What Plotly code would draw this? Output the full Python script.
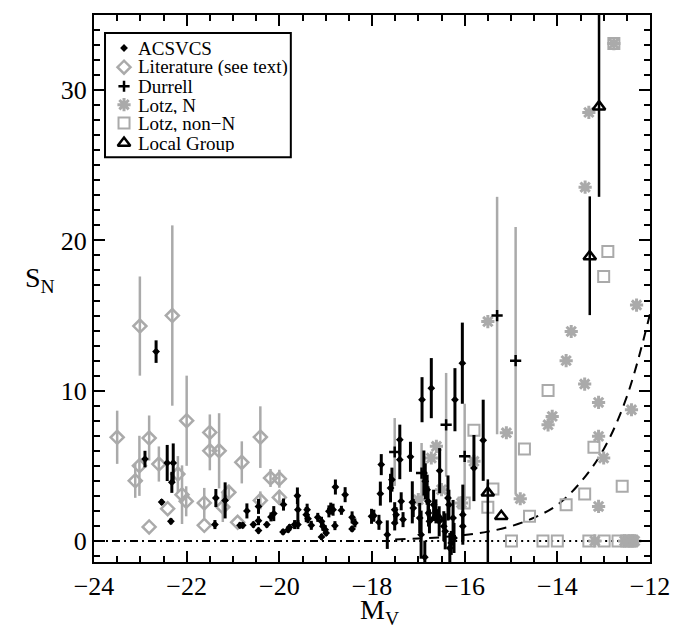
import plotly.graph_objects as go

# ---------------- data ----------------
# ACSVCS: M_V, S_N, error
acs_mv = [-22.66, -22.90, -22.54, -22.42, -22.29, -22.32, -22.34, -21.37, -21.39, -21.17,
          -20.85, -20.79, -20.70, -20.56, -20.45, -20.45, -20.45, -20.27, -20.18, -20.12,
          -19.91, -19.92, -19.81, -19.78, -19.67, -19.61, -19.60, -19.60, -19.42, -19.40,
          -19.38, -19.31, -19.17, -19.09, -19.06, -19.01, -19.09, -18.99, -18.93, -18.89,
          -18.84, -18.79, -18.80, -18.66, -18.58, -18.43, -18.37, -18.43, -18.01, -17.96,
          -17.85, -17.82, -17.80, -17.67, -17.60, -17.57, -17.40, -17.40, -17.51, -17.51,
          -17.48, -17.37, -17.33, -17.17, -17.13, -17.11, -16.97, -16.94, -16.86, -16.92,
          -16.72, -16.21, -16.05, -15.60, -15.80, -16.54, -16.88, -16.85, -16.81, -16.79,
          -16.78, -16.76, -16.67, -16.62, -16.55, -16.45, -16.42, -16.36, -16.34, -16.32,
          -16.29, -16.25, -16.23, -16.04, -16.04]
acs_sn = [12.6, 5.45, 2.59, 5.19, 5.19, 3.9, 1.31, 2.86, 1.09, 2.7,
          1.04, 1.04, 2.0, 1.09, 2.3, 1.35, 0.69, 1.09, 1.6, 1.82,
          2.42, 0.6, 0.75, 0.91, 1.09, 3.01, 2.08, 1.09, 1.75, 2.08,
          1.48, 1.04, 1.57, 1.31, 0.98, 0.75, 0.27, 0.53, 1.97, 2.15,
          2.08, 3.59, 1.02, 2.04, 3.08, 1.57, 1.2, 0.8, 1.64, 1.68,
          1.24, 3.15, 5.08, 0.42, 3.52, 4.08, 6.74, 5.41, 2.08, 1.2,
          1.75, 2.64, 1.42, 5.6, 2.57, 2.19, 1.53, 0.42, -1.08, 9.4,
          10.17, 9.4, 11.83, 6.7, 4.85, 4.68, 4.52, 3.97, 3.41, 2.64,
          1.86, 1.31, 2.41, 1.97, 1.31, 0.98, 0.64, 2.86, 2.41, -0.47,
          -0.13, 1.53, 0.2, 1.75, 0.98]
acs_err = [0.75, 0.55, 0.2, 1.2, 1.3, 0.7, 0.2, 0.6, 0.3, 1.2,
           0.2, 0.2, 0.5, 0.2, 0.5, 0.3, 0.2, 0.2, 0.3, 0.5,
           0.4, 0.2, 0.2, 0.2, 0.3, 0.55, 1.0, 0.3, 0.5, 0.4,
           0.3, 0.3, 0.3, 0.3, 0.3, 0.3, 0.2, 0.2, 0.4, 0.4,
           0.4, 0.5, 0.3, 0.3, 0.5, 0.4, 0.3, 0.2, 0.5, 0.4,
           0.5, 0.8, 0.7, 0.95, 0.95, 0.8, 1.0, 1.3, 0.5, 0.5,
           0.5, 0.6, 0.5, 1.0, 1.4, 0.6, 1.0, 1.6, 1.1, 1.5,
           2.0, 2.1, 2.7, 2.7, 2.2, 1.5, 1.5, 1.2, 1.0, 1.0,
           0.9, 0.8, 1.0, 0.8, 1.0, 1.0, 1.2, 1.5, 1.0, 1.0,
           0.8, 1.2, 1.0, 2.0, 1.0]

# Literature
lit_mv = [-23.50, -23.11, -23.02, -23.01, -22.81, -22.81, -22.60, -22.41, -22.31, -22.19,
          -22.10, -22.01, -22.00, -21.62, -21.62, -21.50, -21.50, -21.30, -21.22, -21.09,
          -20.90, -20.81, -20.41, -20.41, -20.19, -20.00, -20.00]
lit_sn = [6.9, 4.0, 5.0, 14.3, 6.85, 0.93, 5.12, 2.15, 15.0, 4.45,
          3.08, 2.64, 8.0, 2.53, 1.04, 7.22, 6.0, 6.0, 2.26, 3.24,
          1.24, 5.23, 6.91, 2.7, 4.19, 4.14, 2.9]
lit_err = [1.77, 1.13, 2.0, 3.3, 1.5, 0.0, 1.17, 0.0, 6.0, 1.2,
           1.95, 1.0, 3.0, 1.0, 0.0, 1.2, 1.3, 2.5, 1.0, 0.5,
           0.0, 1.4, 2.05, 0.6, 0.6, 0.6, 0.5]

# Durrell
dur_mv = [-17.51, -16.93, -16.40, -16.00, -15.30, -14.90]
dur_sn = [5.92, 4.52, 7.73, 5.63, 15.0, 12.0]
dur_err = [2.26, 2.0, 3.45, 3.5, 7.9, 8.9]

# Lotz, N
lotzn_mv = [-17.00, -16.72, -16.61, -16.50, -16.07, -15.80, -15.50, -15.10, -14.80, -14.20,
            -14.11, -13.81, -13.70, -13.41, -13.40, -13.32, -13.11, -13.11, -13.00, -13.11,
            -12.78, -12.40, -12.29, -13.19, -12.55, -12.45, -12.38, -12.33]
lotzn_sn = [2.75, 5.52, 6.3, 3.41, 2.53, 5.3, 14.6, 7.2, 2.81, 7.73,
            8.29, 12.0, 13.94, 10.44, 23.54, 28.52, 9.22, 6.96, 5.52, 2.3,
            33.1, 8.73, 15.7, 0.0, 0.0, 0.0, 0.0, 0.0]

# Lotz, non-N
lotzx_mv = [-16.01, -15.80, -15.39, -15.50, -14.71, -14.60, -14.20, -13.81, -13.41, -13.21,
            -13.00, -12.91, -12.78, -12.60, -14.99, -14.31, -14.00, -13.32, -12.99, -12.69,
            -12.50, -12.40]
lotzx_sn = [2.53, 7.36, 3.45, 2.24, 6.12, 1.64, 10.02, 2.41, 3.13, 6.23,
            17.6, 19.26, 33.1, 3.64, 0.0, 0.0, 0.0, 0.0, 0.0, 0.0,
            0.0, 0.0]

# Local Group
lg_mv = [-13.10, -13.30, -15.50, -15.21, -16.60]
lg_sn = [28.9, 18.93, 3.2, 1.64, 1.6]
lg_err_hi = [7.0, 4.0, 0.9, 0.0, 0.3]
lg_err_lo = [6.0, 3.9, 5.0, 0.0, 0.3]

# reference curves
zero_dd_mv = [-24.0, -17.5]
zero_dot_mv = [-17.5, -12.0]
curve_mv = [-17.5, -17.0, -16.5, -16.0, -15.5, -15.0, -14.5, -14.0, -13.5, -13.0, -12.5, -12.0]
curve_sn = [0.1, 0.16, 0.25, 0.4, 0.62, 0.98, 1.55, 2.4, 3.9, 6.1, 9.6, 15.1]

legend_labels = ["ACSVCS", "Literature (see text)", "Durrell", "Lotz, N", "Lotz, non\u2212N", "Local Group"]

GRAY = "#aaaaaa"
FONT = "Liberation Serif, Times New Roman, serif"

fig = go.Figure()

# lines
fig.add_trace(go.Scatter(x=zero_dd_mv, y=[0, 0], mode="lines",
                         line=dict(color="black", width=2, dash="8px,4px,2px,4px"), hoverinfo="skip"))
fig.add_trace(go.Scatter(x=zero_dot_mv, y=[0, 0], mode="lines",
                         line=dict(color="black", width=2, dash="2px,4px"), hoverinfo="skip"))
fig.add_trace(go.Scatter(x=curve_mv, y=curve_sn, mode="lines", line_shape="spline",
                         line=dict(color="black", width=2, dash="10px,7px"), hoverinfo="skip"))

SQ = dict(symbol="square-open", size=11, color=GRAY, line=dict(width=2, color=GRAY))
AST = dict(symbol="asterisk-open", size=11, color=GRAY, line=dict(width=3, color=GRAY))
DIA = dict(symbol="diamond-open", size=10, color=GRAY, line=dict(width=2.5, color=GRAY))
CRS = dict(symbol="cross-thin-open", size=8, color="black", line=dict(width=2.5, color="black"))
ACS = dict(symbol="diamond", size=6, color="black")
TRI = dict(symbol="triangle-up-open", size=11, color="black", line=dict(width=2.5, color="black"))

fig.add_trace(go.Scatter(x=lotzx_mv, y=lotzx_sn, mode="markers", marker=SQ))
fig.add_trace(go.Scatter(x=lotzn_mv, y=lotzn_sn, mode="markers", marker=AST))
fig.add_trace(go.Scatter(x=lit_mv, y=lit_sn, mode="markers",
                         error_y=dict(type="data", array=lit_err, color=GRAY, thickness=2.5, width=0),
                         marker=DIA))
fig.add_trace(go.Scatter(x=dur_mv, y=dur_sn, mode="markers",
                         error_y=dict(type="data", array=dur_err, color=GRAY, thickness=2.5, width=0),
                         marker=CRS))
fig.add_trace(go.Scatter(x=acs_mv, y=acs_sn, mode="markers",
                         error_y=dict(type="data", array=acs_err, color="black", thickness=3, width=0),
                         marker=ACS))
fig.add_trace(go.Scatter(x=lg_mv, y=lg_sn, mode="markers",
                         error_y=dict(type="data", array=lg_err_hi, arrayminus=lg_err_lo, symmetric=False,
                                      color="black", thickness=2.5, width=0),
                         marker=TRI))

# manual legend (overlay axes in [0,1])
leg_y = [0.9397, 0.9046, 0.8697, 0.8361, 0.8026, 0.7660]
leg_x = 0.054
leg_styles = [ACS, DIA, CRS, AST, SQ, TRI]
for yy, st, lab in zip(leg_y, leg_styles, legend_labels):
    fig.add_trace(go.Scatter(x=[leg_x], y=[yy], mode="markers", marker=st, xaxis="x2", yaxis="y2",
                             hoverinfo="skip"))
    fig.add_annotation(x=0.075, y=yy, xref="paper", yref="paper", text=lab, showarrow=False,
                       xanchor="left", yanchor="middle", height=18, valign="middle",
                       font=dict(family=FONT, size=19, color="black"))

fig.add_shape(type="rect", xref="paper", yref="paper", x0=0.0198, x1=0.354, y0=0.740, y1=0.967,
              line=dict(color="black", width=2), layer="above")

axis_common = dict(showline=True, linecolor="black", linewidth=2, mirror="allticks",
                   ticks="inside", ticklen=11, tickwidth=2, tickcolor="black",
                   showgrid=False, zeroline=False, automargin=False,
                   tickfont=dict(family=FONT, size=26, color="black"))

fig.update_layout(
    width=678, height=629,
    margin=dict(l=86, r=36, t=7, b=75),
    paper_bgcolor="white", plot_bgcolor="white",
    showlegend=False,
    xaxis=dict(range=[-24, -12], dtick=2, tick0=-24,
               minor=dict(ticks="inside", ticklen=6, tickwidth=2, tickcolor="black", dtick=0.5, showgrid=False),
               **axis_common),
    yaxis=dict(range=[-1.4, 35], dtick=10, tick0=0,
               minor=dict(ticks="inside", ticklen=6, tickwidth=2, tickcolor="black", dtick=1, showgrid=False),
               **axis_common),
    xaxis2=dict(overlaying="x", range=[0, 1], visible=False),
    yaxis2=dict(overlaying="y", range=[0, 1], visible=False),
)

fig.add_annotation(x=-0.128, y=0.517, xref="paper", yref="paper", text="S<sub>N</sub>", showarrow=False,
                   font=dict(family=FONT, size=28, color="black"))
fig.add_annotation(x=0.514, y=-0.127, xref="paper", yref="paper", text="M<sub>V</sub>", showarrow=False,
                   font=dict(family=FONT, size=28, color="black"))

fig.write_html("out.html")
